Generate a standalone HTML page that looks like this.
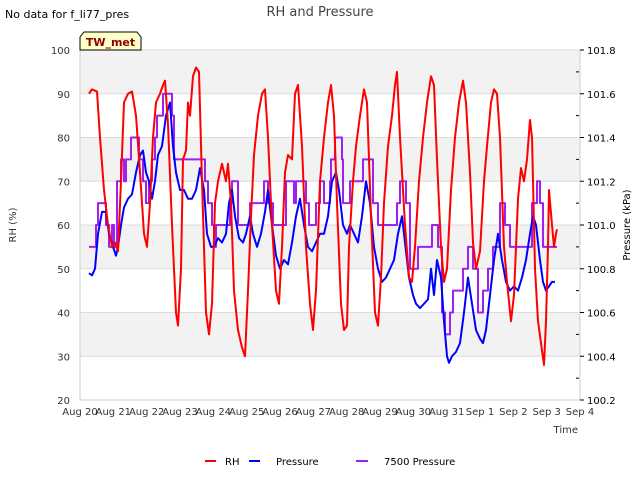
<!DOCTYPE html>
<html><head><meta charset="utf-8">
<style>
body{margin:0;background:#fff;}
svg{display:block;font-family:"DejaVu Sans","Liberation Sans",sans-serif;}
</style></head>
<body>
<svg id="chart" width="640" height="480" viewBox="0 0 640 480">
<text x="5" y="18" font-size="11" fill="#000">No data for f_li77_pres</text>
<text x="320" y="16" font-size="13" fill="#444" text-anchor="middle">RH and Pressure</text>
<g id="plot"></g>
<g>
<path d="M80,50 L80,37 L84,32 L137,32 L141,37 L141,50 Z" fill="#ffffc8" stroke="#000" stroke-width="1"/>
<text x="110.5" y="46" font-size="11" font-weight="bold" fill="#8b0000" text-anchor="middle">TW_met</text>
</g>
<text x="16" y="225" font-size="10" fill="#333" text-anchor="middle" transform="rotate(-90 16 225)">RH (%)</text>
<text x="630" y="225" font-size="10" fill="#000" text-anchor="middle" transform="rotate(-90 630 225)">Pressure (kPa)</text>
<text x="578" y="433" font-size="10" fill="#333" text-anchor="end">Time</text>
<g>
<g><line x1="205" y1="461" x2="216" y2="461" stroke="#ff0000" stroke-width="2"/><text x="225" y="465" font-size="10">RH</text></g>
<g><line x1="249" y1="461" x2="260" y2="461" stroke="#0000ff" stroke-width="2"/><text x="276" y="465" font-size="10">Pressure</text></g>
<g><line x1="356" y1="461" x2="368" y2="461" stroke="#a020f0" stroke-width="2"/><text x="384" y="465" font-size="10">7500 Pressure</text></g>
</g>
</svg>
<script>
const xTickLabels=["Aug 20","Aug 21","Aug 22","Aug 23","Aug 24","Aug 25","Aug 26","Aug 27","Aug 28","Aug 29","Aug 30","Aug 31","Sep 1","Sep 2","Sep 3","Sep 4"];
const leftTicks=[20,30,40,50,60,70,80,90,100];
const rightTicks=["100.2","100.4","100.6","100.8","101.0","101.2","101.4","101.6","101.8"];
const rhT=[0.27,0.36,0.51,0.60,0.72,0.84,0.96,1.05,1.14,1.23,1.32,1.44,1.56,1.68,1.80,1.92,2.01,2.10,2.19,2.28,2.40,2.49,2.55,2.64,2.76,2.88,2.94,3.03,3.09,3.18,3.24,3.30,3.39,3.48,3.57,3.66,3.78,3.87,3.96,4.05,4.14,4.26,4.38,4.44,4.53,4.62,4.74,4.86,4.95,5.04,5.13,5.22,5.34,5.46,5.55,5.64,5.76,5.88,5.97,6.06,6.15,6.24,6.36,6.45,6.54,6.66,6.78,6.90,6.99,7.08,7.20,7.32,7.44,7.53,7.62,7.71,7.83,7.92,8.01,8.07,8.19,8.28,8.40,8.52,8.61,8.73,8.85,8.94,9.03,9.12,9.24,9.36,9.45,9.51,9.60,9.75,9.87,9.96,10.05,10.17,10.29,10.41,10.53,10.62,10.71,10.83,10.92,11.01,11.13,11.25,11.37,11.49,11.58,11.70,11.79,11.88,12.00,12.12,12.21,12.33,12.42,12.51,12.60,12.72,12.81,12.93,13.02,13.14,13.23,13.32,13.41,13.50,13.56,13.65,13.74,13.83,13.92,13.98,14.04,14.07,14.16,14.22,14.28,14.31];
const rhV=[90,91,90.5,80,68,60,55,56,54,70,88,90,90.5,85,72,58,55,65,80,88,90,92,93,83,60,40,37,50,75,77,88,85,94,96,95,70,40,35,42,65,70,74,70,74,65,45,36,32,30,45,62,76,85,90,91,80,60,45,42,55,72,76,75,90,92,78,55,42,36,45,70,80,88,92,85,65,42,36,37,55,70,78,85,91,88,62,40,37,48,65,78,85,92,95,80,60,48,47,55,70,80,88,94,92,75,55,47,50,68,80,88,93,88,72,56,50,54,70,78,88,91,90,80,55,47,38,44,66,73,70,75,84,80,50,38,33,28,38,55,68,60,55,58,59];
const pT=[0.27,0.36,0.45,0.54,0.66,0.78,0.87,0.99,1.08,1.14,1.23,1.32,1.44,1.56,1.68,1.80,1.89,1.98,2.07,2.16,2.25,2.34,2.46,2.58,2.70,2.79,2.88,3.00,3.12,3.24,3.36,3.48,3.60,3.72,3.81,3.93,4.02,4.14,4.26,4.38,4.47,4.56,4.65,4.77,4.89,4.98,5.10,5.19,5.31,5.43,5.55,5.64,5.76,5.88,6.00,6.12,6.24,6.36,6.48,6.60,6.72,6.84,6.96,7.08,7.20,7.32,7.44,7.56,7.68,7.77,7.89,8.01,8.10,8.22,8.34,8.46,8.58,8.70,8.82,8.94,9.06,9.18,9.30,9.42,9.54,9.66,9.75,9.87,9.99,10.08,10.20,10.32,10.44,10.53,10.62,10.71,10.83,10.92,11.01,11.07,11.16,11.28,11.40,11.52,11.64,11.76,11.88,12.00,12.09,12.18,12.30,12.42,12.54,12.66,12.78,12.90,13.02,13.14,13.26,13.38,13.50,13.59,13.68,13.80,13.89,13.98,14.07,14.16,14.25];
const pV=[100.78,100.77,100.80,100.96,101.06,101.06,100.96,100.90,100.86,100.90,101.00,101.08,101.12,101.14,101.24,101.32,101.34,101.24,101.20,101.12,101.20,101.32,101.36,101.50,101.56,101.36,101.24,101.16,101.16,101.12,101.12,101.16,101.26,101.16,100.96,100.90,100.90,100.94,100.92,100.96,101.10,101.16,101.04,100.94,100.92,100.96,101.04,100.96,100.90,100.96,101.06,101.16,101.00,100.86,100.80,100.84,100.82,100.92,101.04,101.12,101.00,100.90,100.88,100.92,100.96,100.96,101.04,101.20,101.24,101.16,101.00,100.96,101.00,100.96,100.92,101.04,101.20,101.10,100.90,100.80,100.74,100.76,100.80,100.84,100.96,101.04,100.92,100.76,100.68,100.64,100.62,100.64,100.66,100.80,100.68,100.84,100.76,100.56,100.40,100.37,100.40,100.42,100.46,100.60,100.76,100.64,100.52,100.48,100.46,100.52,100.68,100.84,100.96,100.84,100.74,100.70,100.72,100.70,100.76,100.84,100.96,101.04,101.00,100.84,100.74,100.70,100.72,100.74,100.74];
const p7T=[0.27,0.48,0.54,0.78,0.87,0.96,1.02,1.11,1.23,1.32,1.38,1.53,1.77,1.89,1.98,2.07,2.16,2.25,2.31,2.49,2.76,2.82,3.75,3.84,3.96,4.02,4.08,4.50,4.56,4.74,5.10,5.52,5.64,5.79,6.18,6.42,6.48,6.78,6.87,7.08,7.20,7.32,7.50,7.53,7.65,7.86,7.89,8.10,8.49,8.79,8.94,9.51,9.60,9.78,9.90,10.14,10.56,10.74,10.86,10.95,11.10,11.19,11.49,11.64,11.79,11.94,12.09,12.24,12.39,12.60,12.75,12.90,13.56,13.71,13.80,13.89,14.31];
const p7V=[100.9,101.0,101.1,101.0,100.9,101.0,100.9,101.2,101.3,101.2,101.3,101.4,101.3,101.2,101.1,101.2,101.3,101.4,101.5,101.6,101.5,101.3,101.2,101.1,101.0,100.9,101.0,101.1,101.2,101.0,101.1,101.2,101.1,101.0,101.2,101.1,101.2,101.1,101.0,101.1,101.2,101.1,101.2,101.3,101.4,101.3,101.1,101.2,101.3,101.1,101.0,101.1,101.2,101.1,100.8,100.9,101.0,100.9,100.6,100.5,100.6,100.7,100.8,100.9,100.8,100.6,100.7,100.8,100.9,101.1,101.0,100.9,101.1,101.2,101.1,100.9,100.9];

const X0=80,X1=580,Y0=50,Y1=400;
const xs=d=>X0+(X1-X0)*d/15;
const yL=v=>Y1-(Y1-Y0)*(v-20)/80;
const yR=v=>Y1-(Y1-Y0)*(v-100.2)/1.6;
const NS="http://www.w3.org/2000/svg";
const plot=document.getElementById('plot');
function mk(tag,attrs,parent){const e=document.createElementNS(NS,tag);for(const k in attrs)e.setAttribute(k,attrs[k]);(parent||plot).appendChild(e);return e;}

// bands
for(let i=0;i<4;i++){
  const top=100-i*20;
  const r=mk('rect',{x:X0,y:yL(top),width:X1-X0,height:yL(top-10)-yL(top),fill:'#f2f2f2'});
  
  
}
leftTicks.forEach(v=>{
  const g=mk('line',{x1:X0,x2:X1,y1:yL(v),y2:yL(v),stroke:'#dcdcdc','stroke-width':1});
  
  
  const t=mk('text',{x:70,y:yL(v)+4,'font-size':10,'text-anchor':'end',fill:'#333'});
  t.textContent=v;
  
  
});
const ax=mk('path',{d:`M${X0},${Y0} V${Y1} H${X1} V${Y0}`,fill:'none',stroke:'#ccc','stroke-width':1});


rightTicks.forEach((s,i)=>{
  const v=parseFloat(s);
  const t=mk('text',{x:587,y:yR(v)+4,'font-size':10,fill:'#000'});
  t.textContent=s;
  
  
  const tk=mk('line',{x1:X1,x2:X1+4,y1:yR(v),y2:yR(v),stroke:'#000'});
  
  
  if(i<rightTicks.length-1){
    const m=mk('line',{x1:X1-4,x2:X1-1,y1:yR(v+0.1),y2:yR(v+0.1),stroke:'#000'});
    
    
  }
});
xTickLabels.forEach((s,i)=>{
  const t=mk('text',{x:xs(i),y:415,'font-size':10,'text-anchor':'middle',fill:'#333'});
  t.textContent=s;
  
  
});
function line(T,V,fy,color,name,step){
  const n=Math.min(T.length,V.length);let d='';
  for(let i=0;i<n;i++){
    const x=xs(T[i]),y=fy(V[i]);
    if(i===0)d+=`M${x},${y}`;
    else if(step)d+=` H${x} V${y}`;
    else d+=` L${x},${y}`;
  }
  const p=mk('path',{d:d,fill:'none',stroke:color,'stroke-width':2,'stroke-linejoin':'round'});
  
  
}
line(p7T,p7V,yR,'#a020f0','series-7500-pressure',true);
line(pT,pV,yR,'#0000ff','series-pressure',false);
line(rhT,rhV,yL,'#ff0000','series-rh',false);
</script>
</body></html>
